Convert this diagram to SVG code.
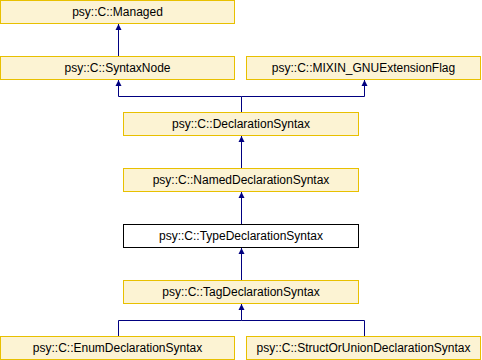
<svg xmlns="http://www.w3.org/2000/svg" width="482" height="360" viewBox="0 0 482 360">
  <style>
    .box { fill: #FCF3D3; stroke: #E8C000; stroke-width: 1; }
    .cur { fill: #FFFFFF; stroke: #000000; stroke-width: 1; }
    .lbl { font-family: "Liberation Sans", Arial, sans-serif; font-size: 12px; fill: #000000; text-anchor: middle; }
    .edge { fill: none; stroke: #000080; stroke-width: 1; }
    .head { fill: #000080; }
  </style>
  <rect width="482" height="360" fill="#FFFFFF"/>

  <g id="edges">
    <path class="edge" d="M118.5,56 V24"/>
    <path class="edge" d="M241.5,112 V96.5 H118.5 V80"/>
    <path class="edge" d="M241.5,96.5 H364.5 V80"/>
    <path class="edge" d="M241.5,168 V136"/>
    <path class="edge" d="M241.5,224 V192"/>
    <path class="edge" d="M241.5,280 V248"/>
    <path class="edge" d="M118.5,336 V320.5 H241.5 V304"/>
    <path class="edge" d="M364.5,336 V320.5 H241.5"/>
    <!-- inheritance arrowheads -->
    <path class="head" d="M118.5,24 L121.5,30 L115.5,30 Z"/>
    <path class="head" d="M118.5,80 L121.5,86 L115.5,86 Z"/>
    <path class="head" d="M364.5,80 L367.5,86 L361.5,86 Z"/>
    <path class="head" d="M241.5,136 L244.5,142 L238.5,142 Z"/>
    <path class="head" d="M241.5,192 L244.5,198 L238.5,198 Z"/>
    <path class="head" d="M241.5,248 L244.5,254 L238.5,254 Z"/>
    <path class="head" d="M241.5,304 L244.5,310 L238.5,310 Z"/>
  </g>

  <g id="managed">
    <rect class="box" x="0.5" y="0.5" width="234" height="23"/>
    <text class="lbl" x="117.5" y="16">psy::C::Managed</text>
  </g>
  <g id="syntaxnode">
    <rect class="box" x="0.5" y="56.5" width="234" height="23"/>
    <text class="lbl" x="117.5" y="72">psy::C::SyntaxNode</text>
  </g>
  <g id="mixin">
    <rect class="box" x="246.5" y="56.5" width="234" height="23"/>
    <text class="lbl" x="363.5" y="72">psy::C::MIXIN_GNUExtensionFlag</text>
  </g>
  <g id="declaration">
    <rect class="box" x="123.5" y="112.5" width="235" height="23"/>
    <text class="lbl" x="241" y="128">psy::C::DeclarationSyntax</text>
  </g>
  <g id="nameddeclaration">
    <rect class="box" x="123.5" y="168.5" width="235" height="23"/>
    <text class="lbl" x="241" y="184">psy::C::NamedDeclarationSyntax</text>
  </g>
  <g id="typedeclaration">
    <rect class="cur" x="123.5" y="224.5" width="235" height="23"/>
    <text class="lbl" x="241" y="240">psy::C::TypeDeclarationSyntax</text>
  </g>
  <g id="tagdeclaration">
    <rect class="box" x="123.5" y="280.5" width="235" height="23"/>
    <text class="lbl" x="241" y="296">psy::C::TagDeclarationSyntax</text>
  </g>
  <g id="enumdeclaration">
    <rect class="box" x="0.5" y="336.5" width="234" height="23"/>
    <text class="lbl" x="117.5" y="352">psy::C::EnumDeclarationSyntax</text>
  </g>
  <g id="structorunion">
    <rect class="box" x="246.5" y="336.5" width="234" height="23"/>
    <text class="lbl" x="363.5" y="352">psy::C::StructOrUnionDeclarationSyntax</text>
  </g>
</svg>
